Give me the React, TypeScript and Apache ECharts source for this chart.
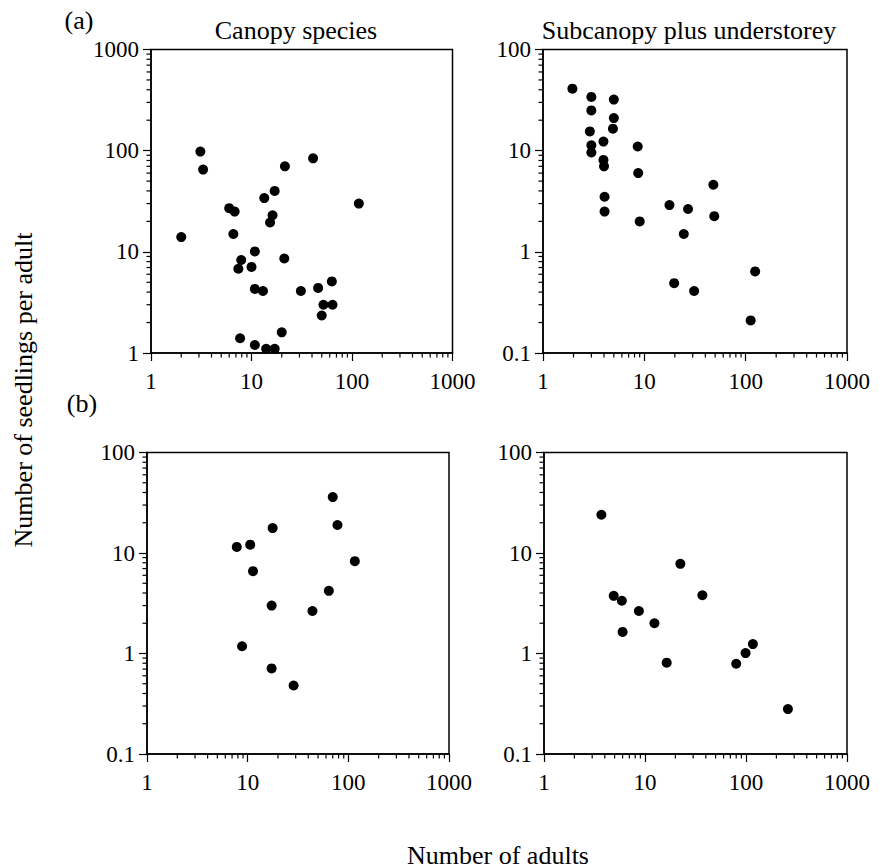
import React, { useEffect, useRef } from "react";
import * as echarts from "echarts";

const FONT = "'Liberation Serif', 'Times New Roman', 'DejaVu Serif', serif";

// ---- text ----
const PANEL_TITLES = ["Canopy species", "Subcanopy plus understorey"];
const PANEL_LETTERS = ["(a)", "(b)"];
const X_TITLE = "Number of adults";
const Y_TITLE = "Number of seedlings per adult";

// ---- axis ranges ----
const X_RANGE = [1, 1000];
const Y_RANGE_TOP_LEFT = [1, 1000];
const Y_RANGE_OTHERS = [0.1, 100];
const MINOR_STEPS = [2, 3, 4, 5, 6, 7, 8, 9];

// ---- data: (a) canopy species ----
const X_CANOPY_A = [3.1, 3.3, 2.0, 6.0, 6.8, 6.6, 7.9, 7.4, 10, 10.8, 10.8, 13, 13.4, 17, 16.2, 15.3, 21.5, 21.2, 41, 117, 31, 46, 63, 52, 64, 50, 7.7, 10.8, 14, 17, 20];
const Y_CANOPY_A = [98, 65, 14, 27, 25, 15, 8.3, 6.8, 7.1, 10.1, 4.3, 4.1, 34, 40, 23, 19.5, 70, 8.6, 84, 30, 4.1, 4.4, 5.1, 3.0, 3.0, 2.35, 1.4, 1.2, 1.1, 1.1, 1.6];

// ---- data: (a) subcanopy plus understorey ----
const X_SUB_A = [1.95, 3, 3, 2.9, 3, 3, 5, 5, 4.9, 3.95, 3.95, 4, 4.05, 4.05, 8.6, 8.7, 9, 17.7, 27, 24.5, 48, 49, 19.7, 31, 124, 112];
const Y_SUB_A = [41, 34, 25, 15.5, 11.3, 9.6, 32, 21, 16.5, 12.3, 8.1, 7.0, 3.5, 2.5, 11, 6.0, 2.0, 2.9, 2.65, 1.5, 4.6, 2.25, 0.49, 0.41, 0.64, 0.21];

// ---- data: (b) canopy species ----
const X_CANOPY_B = [7.8, 10.6, 11.3, 17.7, 17.3, 8.8, 17.3, 28.6, 44, 64, 70, 78, 116];
const Y_CANOPY_B = [11.5, 12.1, 6.6, 17.7, 3.0, 1.18, 0.71, 0.48, 2.65, 4.2, 36, 19, 8.3];

// ---- data: (b) subcanopy plus understorey ----
const X_SUB_B = [3.7, 4.9, 5.9, 6, 8.7, 12.4, 16.4, 22.4, 37, 80, 99, 117, 260];
const Y_SUB_B = [24, 3.75, 3.35, 1.64, 2.65, 2.0, 0.81, 7.8, 3.8, 0.79, 1.01, 1.24, 0.28];

const PANELS = [
  { xs: X_CANOPY_A, ys: Y_CANOPY_A, yRange: Y_RANGE_TOP_LEFT },
  { xs: X_SUB_A, ys: Y_SUB_A, yRange: Y_RANGE_OTHERS },
  { xs: X_CANOPY_B, ys: Y_CANOPY_B, yRange: Y_RANGE_OTHERS },
  { xs: X_SUB_B, ys: Y_SUB_B, yRange: Y_RANGE_OTHERS },
];

const GRIDS = [
  { left: 151, top: 49.5, width: 301.5, height: 303.5 },
  { left: 543, top: 49.5, width: 304, height: 303.5 },
  { left: 147, top: 452.5, width: 302, height: 301.5 },
  { left: 544, top: 452.5, width: 303, height: 301.5 },
];

function minorValues(min: number, max: number): number[] {
  const out: number[] = [];
  for (let d = min; d < max * 0.999; d *= 10) {
    for (const s of MINOR_STEPS) out.push(+(d * s).toPrecision(6));
  }
  return out;
}

const fmt = (v: number) => String(+Number(v).toPrecision(6));

export default function App() {
  const ref = useRef<HTMLDivElement>(null);
  useEffect(() => {
    if (!ref.current) return;
    const chart = echarts.init(ref.current, undefined, { renderer: "svg" });

    const grid = GRIDS.map((g) => ({
      ...g,
      show: true,
      borderColor: "#000",
      borderWidth: 1.5,
      backgroundColor: "transparent",
    }));

    const labelStyle = {
      fontSize: 23,
      fontFamily: FONT,
      fontWeight: "normal",
      color: "#000",
      formatter: fmt,
    };

    const xAxis = PANELS.map((_, i) => ({
      type: "log",
      logBase: 10,
      gridIndex: i,
      min: X_RANGE[0],
      max: X_RANGE[1],
      axisLine: { show: true, lineStyle: { color: "#000", width: 1.5 } },
      axisTick: { show: true, inside: false, length: 8, lineStyle: { color: "#000", width: 1.2 } },
      splitLine: { show: false },
      axisLabel: { ...labelStyle, margin: 17 },
    }));

    const yAxis = PANELS.map((p, i) => ({
      type: "log",
      logBase: 10,
      gridIndex: i,
      min: p.yRange[0],
      max: p.yRange[1],
      axisLine: { show: true, lineStyle: { color: "#000", width: 1.5 } },
      axisTick: { show: true, inside: false, length: 8, lineStyle: { color: "#000", width: 1.2 } },
      splitLine: { show: false },
      axisLabel: { ...labelStyle, margin: 12 },
    }));

    const series: any[] = [];
    PANELS.forEach((p, i) => {
      series.push({
        type: "scatter",
        xAxisIndex: i,
        yAxisIndex: i,
        symbol: "circle",
        symbolSize: 10,
        clip: false,
        itemStyle: { color: "#000", opacity: 1 },
        data: p.xs.map((x, k) => [x, p.ys[k]]),
      });
      // minor ticks on x axis
      series.push({
        type: "custom",
        xAxisIndex: i,
        yAxisIndex: i,
        silent: true,
        clip: false,
        data: minorValues(X_RANGE[0], X_RANGE[1]).map((v) => [v, p.yRange[0]]),
        renderItem: (_params: any, api: any) => {
          const c = api.coord([api.value(0), api.value(1)]);
          return {
            type: "line",
            shape: { x1: c[0], y1: c[1], x2: c[0], y2: c[1] + 4.5 },
            style: { stroke: "#000", lineWidth: 1.2 },
          };
        },
      });
      // minor ticks on y axis
      series.push({
        type: "custom",
        xAxisIndex: i,
        yAxisIndex: i,
        silent: true,
        clip: false,
        data: minorValues(p.yRange[0], p.yRange[1]).map((v) => [X_RANGE[0], v]),
        renderItem: (_params: any, api: any) => {
          const c = api.coord([api.value(0), api.value(1)]);
          return {
            type: "line",
            shape: { x1: c[0], y1: c[1], x2: c[0] - 4.5, y2: c[1] },
            style: { stroke: "#000", lineWidth: 1.2 },
          };
        },
      });
    });

    const textStyle = (text: string, size: number) => ({
      text,
      fill: "#000",
      fontSize: size,
      fontFamily: FONT,
      align: "center",
      verticalAlign: "middle",
    });

    const graphic = [
      { type: "text", x: 296, y: 30, style: textStyle(PANEL_TITLES[0], 26) },
      { type: "text", x: 689, y: 30, style: textStyle(PANEL_TITLES[1], 26) },
      { type: "text", x: 79, y: 20, style: textStyle(PANEL_LETTERS[0], 26) },
      { type: "text", x: 82, y: 403, style: textStyle(PANEL_LETTERS[1], 26) },
      { type: "text", x: 498, y: 855, style: textStyle(X_TITLE, 26) },
      { type: "text", x: 23, y: 390, rotation: Math.PI / 2, style: textStyle(Y_TITLE, 26) },
    ];

    chart.setOption({
      animation: false,
      backgroundColor: "#fff",
      textStyle: { fontFamily: FONT, color: "#000" },
      grid,
      xAxis,
      yAxis,
      series,
      graphic,
    } as any);

    return () => chart.dispose();
  }, []);

  return (
    <div
      ref={ref}
      style={{ position: "fixed", left: 0, top: 0, width: 879, height: 868, background: "#fff" }}
    />
  );
}
